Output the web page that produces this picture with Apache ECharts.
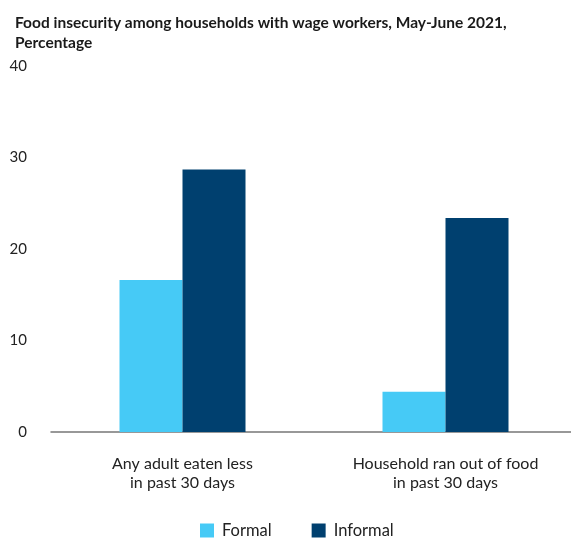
<!DOCTYPE html>
<html>
<head>
<meta charset="utf-8">
<script src="https://cdn.jsdelivr.net/npm/echarts@6/dist/echarts.min.js"></script>
<style>
html,body{margin:0;padding:0;background:#fff;overflow:hidden;width:571px;height:538px;}
#chart{width:577px;height:538px;}
</style>
</head>
<body>
<div id="chart"></div>
<script>
const categories = ["Any adult eaten less\nin past 30 days", "Household ran out of food\nin past 30 days"];
const seriesNames = ["Formal", "Informal"];
const formalValues = [16.6, 4.4];
const informalValues = [28.7, 23.4];
const yTicks = [0, 10, 20, 30, 40];
const colors = ["#46CAF6", "#00406F"];
const FONT = "Lato, 'Noto Sans', sans-serif";

const chart = echarts.init(document.getElementById('chart'), null, {renderer: 'canvas'});
chart.setOption({
  animation: false,
  backgroundColor: '#fff',
  textStyle: {fontFamily: FONT},
  title: {
    text: 'Food insecurity among households with wage workers, May-June 2021,\nPercentage',
    left: 10, top: 8,
    textStyle: {fontFamily: FONT, fontSize: 15.5, fontWeight: 'bold', color: '#1a1a1a', lineHeight: 20}
  },
  legend: {
    top: 517, left: 195,
    itemWidth: 14, itemHeight: 14, itemGap: 40,
    icon: 'rect',
    textStyle: {fontFamily: FONT, fontSize: 16.5, color: '#222', padding: [0, 0, 0, 3]},
    data: seriesNames
  },
  grid: {left: 51, top: 66, right: 0, height: 366, containLabel: false},
  xAxis: {
    type: 'category',
    data: categories,
    axisLine: {show: true, lineStyle: {color: '#777', width: 1.5}},
    axisTick: {show: false},
    axisLabel: {fontFamily: FONT, fontSize: 16, color: '#222', lineHeight: 19, margin: 22}
  },
  yAxis: {
    type: 'value',
    min: 0, max: 40, interval: 10,
    splitLine: {show: false},
    axisLine: {show: false},
    axisTick: {show: false},
    axisLabel: {fontFamily: FONT, fontSize: 15, color: '#222', margin: 24,
      formatter: v => yTicks.includes(v) ? String(v) : ''}
  },
  series: [
    {name: seriesNames[0], type: 'bar', data: formalValues, barWidth: 63, barGap: '0%', itemStyle: {color: colors[0]}},
    {name: seriesNames[1], type: 'bar', data: informalValues, barWidth: 63, barGap: '0%', itemStyle: {color: colors[1]}}
  ]
});
</script>
</body>
</html>
